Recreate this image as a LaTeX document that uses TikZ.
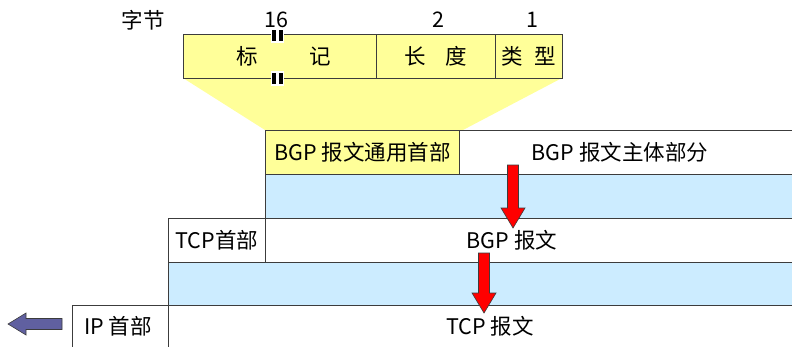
\documentclass[tikz,border=0pt]{standalone}
\usepackage{fontspec}
\setmainfont{Noto Sans CJK SC}
\definecolor{pyellow}{RGB}{255,255,153}
\definecolor{pblue}{RGB}{204,236,255}
\definecolor{pline}{RGB}{60,60,60}
\definecolor{pviolet}{RGB}{96,96,160}
\newcommand\DrawDownArrow[3]{%
  \filldraw[fill=red, draw=pline, line width=0.6pt]
    (#1-5.5,#2) -- (#1+5.5,#2) -- (#1+5.5,#3-20) -- (#1+12,#3-20) -- (#1,#3)
    -- (#1-12,#3-20) -- (#1-5.5,#3-20) -- cycle;}
\begin{document}
\begin{tikzpicture}[x=1pt,y=-1pt,
  box/.style={draw=pline, line width=0.8pt, inner sep=0pt, anchor=north west},
  lbl/.style={inner sep=0pt, font=\fontsize{21.5}{21.5}\selectfont},
  bar/.style={fill=black}]
\useasboundingbox (0,0) rectangle (792,346);
\clip (0,0) rectangle (792,346);
% funnel
\fill[pyellow] (183,78) -- (562,78) -- (463,130) -- (265,130) -- cycle;
% top field boxes
\node[box, fill=pyellow, minimum width=193pt, minimum height=44pt] (mark) at (183,34) {};
\node[box, fill=pyellow, minimum width=119pt, minimum height=44pt] (len) at (376,34) {};
\node[box, fill=pyellow, minimum width=67pt, minimum height=44pt] (type) at (495,34) {};
\node[lbl] (tmark) at ([xshift=4pt]mark.center) {标\hspace{2.4em}记};
\node[lbl] (tlen) at (len.center) {长\hspace{0.9em}度};
\node[lbl] (ttype) at (type.center) {类\hspace{0.55em}型};
% byte labels
\node[lbl] (bytes) at (143,20) {字节};
\node[lbl] (n16) at (276,20) {16};
\node[lbl] (n2) at (438,20) {2};
\node[lbl] (n1) at (532,20) {1};
% break marks
\fill[white] (271,28) rectangle (284,43);
\fill[bar] (272,30) rectangle (276,41);
\fill[bar] (278.5,30) rectangle (282.5,41);
\fill[white] (271,71) rectangle (284,86);
\fill[bar] (272,73) rectangle (276,84);
\fill[bar] (278.5,73) rectangle (282.5,84);
% BGP row
\node[box, fill=pyellow, minimum width=194pt, minimum height=44pt] (bgphdr) at (265,130) {};
\node[box, fill=white, minimum width=345pt, minimum height=44pt] (bgpbody) at (459,130) {};
\node[lbl] (tbgphdr) at (bgphdr.center) {BGP 报文通用首部};
\node[lbl] (tbgpbody) at (620,152) {BGP 报文主体部分};
\node[box, fill=pblue, minimum width=540pt, minimum height=44pt] (band1) at (265,174) {};
% TCP row
\node[box, fill=white, minimum width=97pt, minimum height=44pt] (tcphdr) at (168,218) {};
\node[box, fill=white, minimum width=540pt, minimum height=44pt] (bgpmsg) at (265,218) {};
\node[lbl] (ttcphdr) at (tcphdr.center) {TCP首部};
\node[lbl] (tbgpmsg) at (512,240) {BGP 报文};
\node[box, fill=pblue, minimum width=640pt, minimum height=43pt] (band2) at (168,262) {};
% IP row
\node[box, fill=white, minimum width=96pt, minimum height=50pt] (iphdr) at (72,305) {};
\node[box, fill=white, minimum width=640pt, minimum height=50pt] (tcpmsg) at (168,305) {};
\node[lbl] (tiphdr) at (118,326) {IP 首部};
\node[lbl] (ttcpmsg) at (490,326) {TCP 报文};
% red arrows
\coordinate (a1s) at (513,165);
\coordinate (a1e) at (513,228);
\DrawDownArrow{513}{165}{228}
\DrawDownArrow{484}{253}{313}
% left arrow
\filldraw[fill=pviolet, draw=pline, line width=0.6pt]
  (8,324) -- (26,313) -- (26,318.5) -- (62,318.5) -- (62,329.5) -- (26,329.5) -- (26,335) -- cycle;
\end{tikzpicture}
\end{document}
